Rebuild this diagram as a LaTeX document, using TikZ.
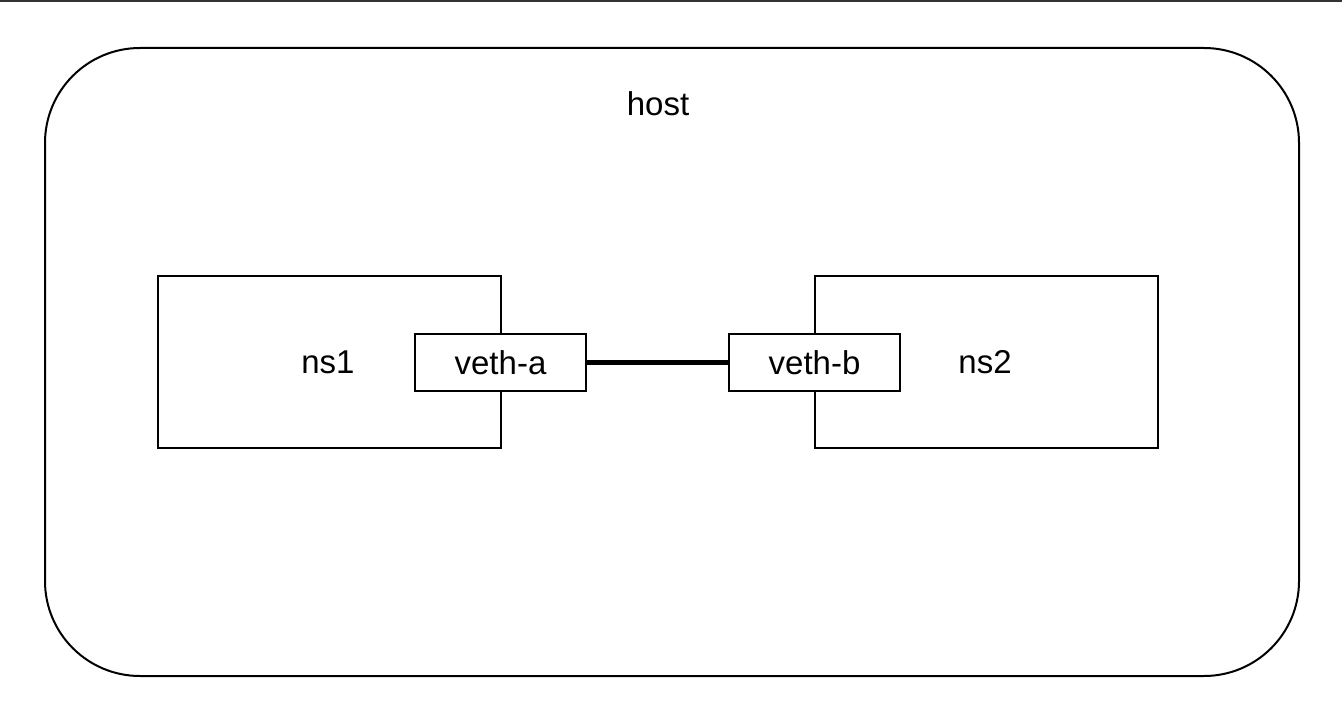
\documentclass[tikz,border=0pt]{standalone}
\usepackage{fontspec}
\setmainfont{Liberation Sans}
\usetikzlibrary{positioning}

\begin{document}
\begin{tikzpicture}[x=0.5pt,y=-0.5pt,
  every node/.style={font=\fontsize{16.5}{19}\selectfont},
  ns/.style={draw,line width=1pt,minimum width=171.5pt,minimum height=86pt},
  veth/.style={draw,fill=white,line width=1pt,minimum width=85.5pt,minimum height=28.5pt}]
  \useasboundingbox (0,0) rectangle (1342,721);
  \draw [line width=1.2pt,black!80] (0,1.2) -- (1342,1.2);
  \node [draw,line width=1pt,rounded corners=47.5pt,minimum width=627pt,minimum height=314pt] (host) at (672,362) {};
  \node (hostname) at (658,104) {host};
  \node [ns] (ns1) at (329.5,362) {};
  \node [ns] (ns2) at (986,362) {};
  \node (ns1name) at (328,362) {ns1};
  \node (ns2name) at (985,362) {ns2};
  \node [veth] (vetha) at (500.5,362.5) {veth-a};
  \node [veth] (vethb) at (814.5,362.5) {veth-b};
  \draw [line width=2.5pt] (vetha) -- (vethb);
\end{tikzpicture}
\end{document}
